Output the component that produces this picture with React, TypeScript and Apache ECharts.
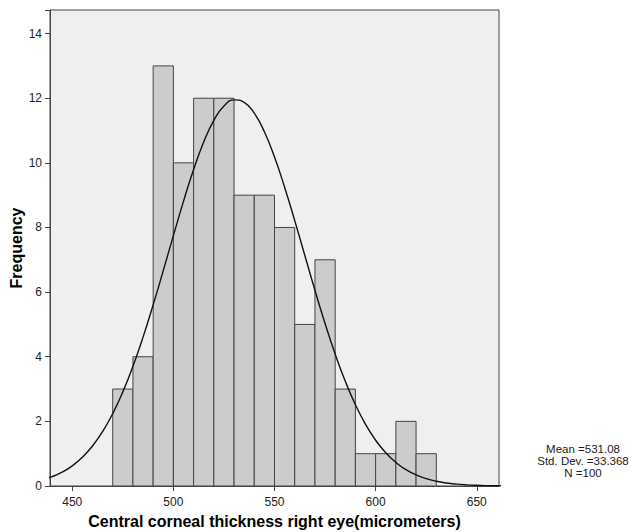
import React, { useEffect, useRef } from "react";
import * as echarts from "echarts";

const binStarts = [470, 480, 490, 500, 510, 520, 530, 540, 550, 560, 570, 580, 590, 600, 610, 620];
const binWidth = 10;
const frequencies = [3, 4, 13, 10, 12, 12, 9, 9, 8, 5, 7, 3, 1, 1, 2, 1];

const curveX = [435, 440, 445, 450, 455, 460, 465, 470, 475, 480, 485, 490, 495, 500, 505, 510, 515, 520, 525, 530, 535, 540, 545, 550, 555, 560, 565, 570, 575, 580, 585, 590, 595, 600, 605, 610, 615, 620, 625, 630, 635, 640, 645, 650, 655, 660, 665];
const curveY = [0.189, 0.288, 0.429, 0.624, 0.889, 1.237, 1.683, 2.239, 2.912, 3.704, 4.607, 5.604, 6.664, 7.748, 8.808, 9.793, 10.645, 11.315, 11.759, 11.95, 11.874, 11.536, 10.96, 10.181, 9.247, 8.212, 7.132, 6.056, 5.028, 4.082, 3.24, 2.515, 1.909, 1.416, 1.028, 0.729, 0.506, 0.343, 0.228, 0.148, 0.094, 0.058, 0.035, 0.021, 0.012, 0.007, 0.004];

const xTicks = [450, 500, 550, 600, 650];
const statsLines = ["Mean =531.08", "Std. Dev. =33.368", "N =100"];

export default function App() {
  const ref = useRef<HTMLDivElement>(null);
  useEffect(() => {
    if (!ref.current) return;
    const chart = echarts.init(ref.current, null, { renderer: "svg" });
    const font = "Liberation Sans, Arial, sans-serif";
    const barData = binStarts.map((s, i) => [s, s + binWidth, frequencies[i]]);
    const lineData = curveX.map((x, i) => [x, curveY[i]]);
    chart.setOption({
      animation: false,
      backgroundColor: "#ffffff",
      grid: {
        left: 50,
        top: 10,
        right: 132,
        bottom: 46,
        containLabel: false,
        outerBoundsMode: "none",
        show: true,
        backgroundColor: "#efefef",
        borderColor: "#444444",
        borderWidth: 1,
      },
      xAxis: {
        type: "value",
        min: 439,
        max: 661,
        name: "Central corneal thickness right eye(micrometers)",
        nameLocation: "middle",
        nameGap: 27,
        nameTextStyle: { fontFamily: font, fontWeight: "bold", fontSize: 16, color: "#000" },
        splitLine: { show: false },
        axisLine: { show: true, onZero: false, lineStyle: { color: "#444", width: 1 } },
        axisTick: { show: true, length: 5, customValues: xTicks, lineStyle: { color: "#444" } },
        axisLabel: { customValues: xTicks, fontFamily: font, fontSize: 12, color: "#222", margin: 10 },
      },
      yAxis: {
        type: "value",
        min: 0,
        max: 14.73,
        interval: 2,
        name: "Frequency",
        nameLocation: "middle",
        nameGap: 26,
        nameMoveOverlap: false,
        nameRotate: 90,
        nameTextStyle: { fontFamily: font, fontWeight: "bold", fontSize: 16, color: "#000" },
        splitLine: { show: false },
        axisLine: { show: true, lineStyle: { color: "#444", width: 1 } },
        axisTick: { show: true, length: 5, lineStyle: { color: "#444" } },
        axisLabel: {
          fontFamily: font,
          fontSize: 12,
          color: "#222",
          margin: 8,
          formatter: (v: number) => (Math.abs(v - Math.round(v)) < 1e-6 && Math.round(v) % 2 === 0 ? String(Math.round(v)) : ""),
        },
      },
      graphic: [
        {
          type: "text",
          x: 583,
          y: 443,
          style: {
            text: statsLines.join("\n"),
            textAlign: "center",
            align: "center",
            fontFamily: font,
            fontSize: 11.5,
            lineHeight: 12,
            fill: "#222",
          },
        },
      ],
      series: [
        {
          type: "custom",
          data: barData,
          encode: { x: [0, 1], y: 2 },
          renderItem: (params: any, api: any) => {
            const x0 = api.value(0);
            const x1 = api.value(1);
            const y = api.value(2);
            const p0 = api.coord([x0, y]);
            const p1 = api.coord([x1, 0]);
            return {
              type: "rect",
              shape: { x: p0[0], y: p0[1], width: p1[0] - p0[0], height: p1[1] - p0[1] },
              style: { fill: "#cccccc", stroke: "#444444", lineWidth: 1 },
            };
          },
          z: 2,
        },
        {
          type: "line",
          data: lineData,
          smooth: true,
          symbol: "none",
          clip: true,
          lineStyle: { color: "#111", width: 1.4 },
          z: 3,
        },
      ],
    });
    return () => chart.dispose();
  }, []);
  return <div ref={ref} style={{ position: "absolute", left: 0, top: 0, width: 631, height: 532 }} />;
}
